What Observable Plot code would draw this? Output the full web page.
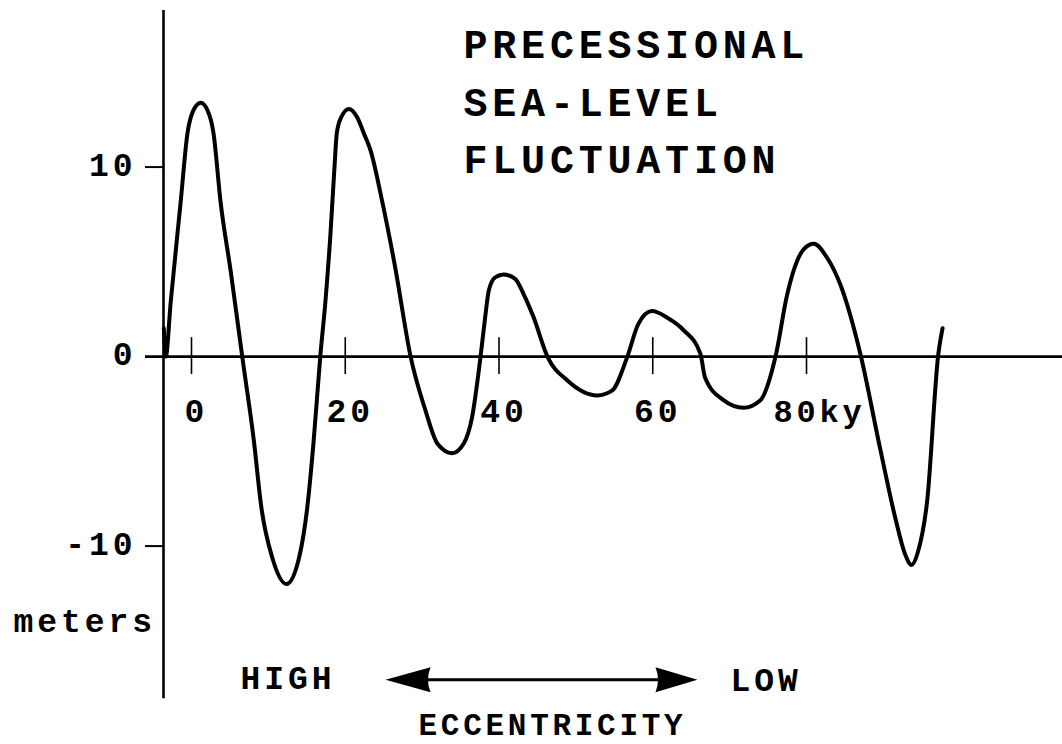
<!DOCTYPE html>
<html>
<head>
<meta charset="utf-8">
<script src="https://cdn.jsdelivr.net/npm/d3@7"></script>
<script src="https://cdn.jsdelivr.net/npm/@observablehq/plot@0.6"></script>
<style>
  html, body { margin: 0; padding: 0; background: #fff; }
  #chart svg text { letter-spacing: 0.12em; }
</style>
</head>
<body>
<div id="chart"></div>
<script>
// ---- data ----
const years = [-3.6, -3.35, -2.7, -1.4, -0.52, 0.26, 1.2, 2.08, 2.86, 3.77, 5.1, 6.6, 8.1, 9.1, 10.5, 12.36, 14.0,
  15.05, 15.9, 16.75, 17.43, 18.08, 18.6, 18.9, 19.47, 20.47, 21.55, 22.4, 23.3, 24.8, 26.5, 28.5,
  30.4, 32.0, 33.9, 35.4, 36.5, 37.6, 38.2, 38.67, 39.5, 40.6, 42.1, 43.2, 44.5, 46.3,
  48.9, 52.8, 54.7, 56.7, 58.1, 59.9, 61.9, 64.0, 66.2, 66.8, 69.2, 71.8, 74.0, 75.97, 77.5, 78.8, 79.65, 80.95,
  82.7, 84.4, 87.0, 89.6, 91.6, 92.8, 93.66, 94.5, 95.7, 97.15, 97.7];
const seaLevel = [1.5, 0.0, 2.9, 8.2, 11.8, 13.0, 13.4, 13.0, 11.8, 8.2, 4.5, 0.0, -4.4, -8.0, -10.6, -12.0, -10.6,
  -8.0, -4.4, 0.0, 2.95, 6.5, 10.0, 11.8, 12.63, 13.07, 12.63, 11.8, 10.87, 8.2, 4.7, 0.0,
  -2.8, -4.6, -5.1, -4.6, -3.2, 0.0, 2.07, 3.48, 4.18, 4.33, 4.1, 3.3, 2.07, 0.0,
  -1.26, -2.05, -1.8, 0.0, 1.7, 2.4, 2.05, 1.4, 0.15, -1.1, -2.3, -2.7, -2.3, 0.0, 3.3, 5.07, 5.67, 5.95,
  5.2, 3.8, 0.15, -4.9, -8.6, -10.4, -11.0, -10.3, -7.6, 0.15, 1.5];

const xTicks = [0, 20, 40, 60, 80];
const xTickLabels = ["0", "20", "40", "60", "80ky"];
const yTicks = [10, 0, -10];
const yTickLabels = ["10", "0", "-10"];

const titleText = "PRECESSIONAL\nSEA-LEVEL\nFLUCTUATION";
const yLabel = "meters";
const arrowLeftLabel = "HIGH";
const arrowRightLabel = "LOW";
const arrowCaption = "ECCENTRICITY";

// ---- derived tables ----
const curve = years.map((t, i) => ({t, m: seaLevel[i]}));
const xTickRows = xTicks.map((v, i) => ({v, label: xTickLabels[i]}));
const yTickRows = yTicks.map((v, i) => ({v, label: yTickLabels[i]}));

const xDomain = [-3.642, 113.3];
const yDomain = [-20.47, 18.79];
const axisX = xDomain[0];
const pxPerKy = 7.6875;

// arrow geometry in data units
const arrowTips = [25.24, 65.82];
const arrowLevel = -17.05;

const leftHead = {draw(ctx) { ctx.moveTo(0, 0); ctx.lineTo(45, -12.5); ctx.quadraticCurveTo(40, 0, 45, 12.5); ctx.closePath(); }};
const rightHead = {draw(ctx) { ctx.moveTo(0, 0); ctx.lineTo(-42, -12.5); ctx.quadraticCurveTo(-37, 0, -42, 12.5); ctx.closePath(); }};

const font = "'Liberation Mono', 'DejaVu Sans Mono', monospace";

const chart = Plot.plot({
  width: 1062,
  height: 744,
  marginLeft: 163,
  marginRight: 0,
  marginTop: 0,
  marginBottom: 0,
  x: {domain: xDomain, axis: null},
  y: {domain: yDomain, axis: null},
  style: {background: "#fff", color: "#000", fontFamily: font, fontWeight: "bold"},
  marks: [
    // vertical axis
    Plot.ruleX([axisX], {y1: -18.05, y2: 18.26, stroke: "#000", strokeWidth: 2.6}),
    // zero line
    Plot.ruleY([0], {x1: axisX - 18 / pxPerKy, x2: xDomain[1], stroke: "#000", strokeWidth: 2.6}),
    // y ticks
    Plot.ruleY(yTicks.filter(v => v !== 0), {x1: axisX - 18 / pxPerKy, x2: axisX, stroke: "#000", strokeWidth: 2}),
    // x ticks
    Plot.ruleX(xTicks, {y1: -0.95, y2: 1.0, stroke: "#000", strokeWidth: 1.6}),
    // curve
    Plot.line(curve, {x: "t", y: "m", curve: "monotone-x", stroke: "#000", strokeWidth: 4, strokeLinejoin: "round"}),
    // x tick labels
    Plot.text(xTickRows.filter(d => d.label.length <= 2), {x: "v", y: -2.9, text: "label", dx: 5, fontSize: 33, fontFamily: font, fontWeight: "bold"}),
    Plot.text(xTickRows.filter(d => d.label.length > 2), {x: "v", y: -2.9, text: "label", dx: 13, fontSize: 32, fontFamily: font, fontWeight: "bold"}),
    // y tick labels
    Plot.text(yTickRows, {x: axisX, y: "v", text: "label", textAnchor: "end", dx: -27, dy: -2, fontSize: 33, fontFamily: font, fontWeight: "bold"}),
    // y label
    Plot.text([yLabel], {x: -23.15, y: -14.0, text: d => d, textAnchor: "start", fontSize: 33, fontFamily: font, fontWeight: "bold"}),
    // title
    Plot.text([titleText], {x: 35.38, y: 17.91, text: d => d, textAnchor: "start", lineAnchor: "top", lineHeight: 1.44, fontSize: 40, fontFamily: font, fontWeight: "bold"}),
    // eccentricity arrow
    Plot.ruleY([arrowLevel], {x1: arrowTips[0] + 5, x2: arrowTips[1] - 5, stroke: "#000", strokeWidth: 3}),
    Plot.dot([arrowTips[0]], {x: d => d, y: arrowLevel, symbol: leftHead, fill: "#000", stroke: "none"}),
    Plot.dot([arrowTips[1]], {x: d => d, y: arrowLevel, symbol: rightHead, fill: "#000", stroke: "none"}),
    Plot.text([arrowLeftLabel], {x: 6.37, y: -17.0, text: d => d, textAnchor: "start", fontSize: 33, fontFamily: font, fontWeight: "bold"}),
    Plot.text([arrowRightLabel], {x: 70.11, y: -17.07, text: d => d, textAnchor: "start", fontSize: 33, fontFamily: font, fontWeight: "bold"}),
    Plot.text([arrowCaption], {x: 29.53, y: -19.47, text: d => d, textAnchor: "start", fontSize: 31, fontFamily: font, fontWeight: "bold"})
  ]
});

document.getElementById("chart").appendChild(chart);
</script>
</body>
</html>
